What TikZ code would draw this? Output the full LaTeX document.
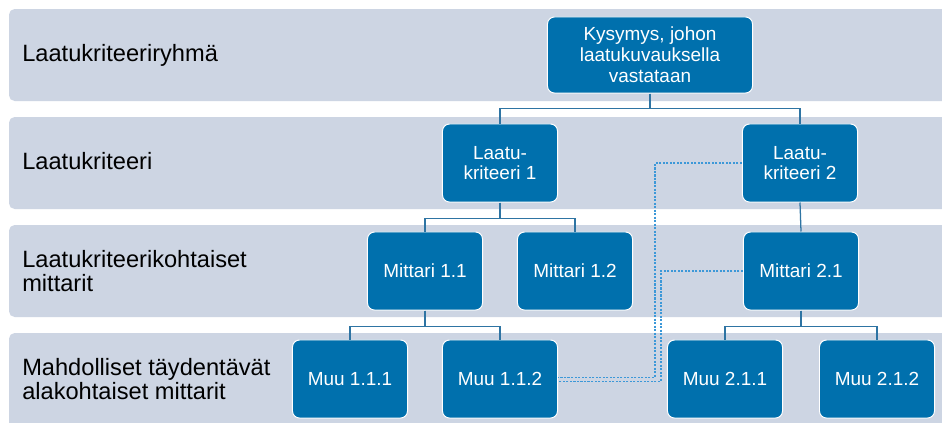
\documentclass[tikz,border=0pt]{standalone}
\usepackage{fontspec}
\setmainfont{Liberation Sans}
\definecolor{bandgray}{HTML}{CDD5E3}
\definecolor{boxblue}{HTML}{0070AD}
\definecolor{linkblue}{HTML}{2E74A3}
\definecolor{dotblue}{HTML}{3C98D8}
\begin{document}
\begin{tikzpicture}[x=0.025cm, y=-0.025cm,
    band/.style={fill=bandgray, rounded corners=4pt},
    lvl/.style={anchor=west, align=left, inner sep=0pt, font=\fontsize{16.8}{17.7}\selectfont},
    box/.style={draw=white, line width=0.7pt, fill=boxblue, text=white, rounded corners=5pt,
      minimum width=2.875cm, minimum height=1.95cm, align=center, inner sep=1pt,
      font=\fontsize{13.5}{14.8}\selectfont},
    link/.style={draw=linkblue, line width=0.9pt},
    dotlink/.style={draw=dotblue, line width=0.75pt, dash pattern=on 1.5pt off 1pt}]
      % outer frame
      \clip (0,0) rectangle (942,422);
      \fill[white] (0,0) rectangle (942,422);

      % the four bands
      \fill[band] (9,9) rectangle (960,101);
      \fill[band] (9,117) rectangle (960,209);
      \fill[band] (9,225) rectangle (960,317);
      \fill[band] (9,333) rectangle (960,440);

      % band titles
      \node (ryhma) at (22,55) [lvl] {Laatukriteeriryhmä};
      \node (kriteeri) at (22,161) [lvl] {Laatukriteeri};
      \node (mittarit) at (22,271) [lvl] {Laatukriteerikohtaiset\\mittarit};
      \node (muut) at (22,379) [lvl] {Mahdolliset täydentävät\\alakohtaiset mittarit};

      % level 1: question
      \node (kysymys) at (650,55) [box, minimum width=5.125cm, minimum height=1.9cm] {Kysymys, johon\\laatukuvauksella\\vastataan};

      % level 2: criteria
      \node (krit1) at (500,163) [box] {Laatu-\\kriteeri 1};
      \node (krit2) at (800,163) [box] {Laatu-\\kriteeri 2};

      % level 3: indicators
      \node (mit11) at (425,271) [box] {Mittari 1.1};
      \node (mit12) at (575,271) [box] {Mittari 1.2};
      \node (mit21) at (801,271) [box] {Mittari 2.1};

      % level 4: other indicators
      \node (muu111) at (350,379) [box] {Muu 1.1.1};
      \node (muu112) at (500,379) [box] {Muu 1.1.2};
      \node (muu211) at (725,379) [box] {Muu 2.1.1};
      \node (muu212) at (877,379) [box] {Muu 2.1.2};

      % tree links
      \draw[link] (kysymys.south) -- ++(0,15) -| (krit1.north);
      \draw[link] (kysymys.south) -- ++(0,15) -| (krit2.north);
      \draw[link] (krit1.south) -- ++(0,16) -| (mit11.north);
      \draw[link] (krit1.south) -- ++(0,16) -| (mit12.north);
      \draw[link] (krit2.south) -- (mit21.north);
      \draw[link] (mit11.south) -- ++(0,16) -| (muu111.north);
      \draw[link] (mit11.south) -- ++(0,16) -| (muu112.north);
      \draw[link] (mit21.south) -- ++(0,16) -| (muu211.north);
      \draw[link] (mit21.south) -- ++(0,16) -| (muu212.north);

      % dotted cross links to Muu 1.1.2
      \draw[dotlink] (krit2.west) -- ++(-87,0) |- ([yshift=1.2pt]muu112.east);
      \draw[dotlink] (mit21.west) -- ++(-82,0) |- ([yshift=-1.6pt]muu112.east);
    \end{tikzpicture}
\end{document}
